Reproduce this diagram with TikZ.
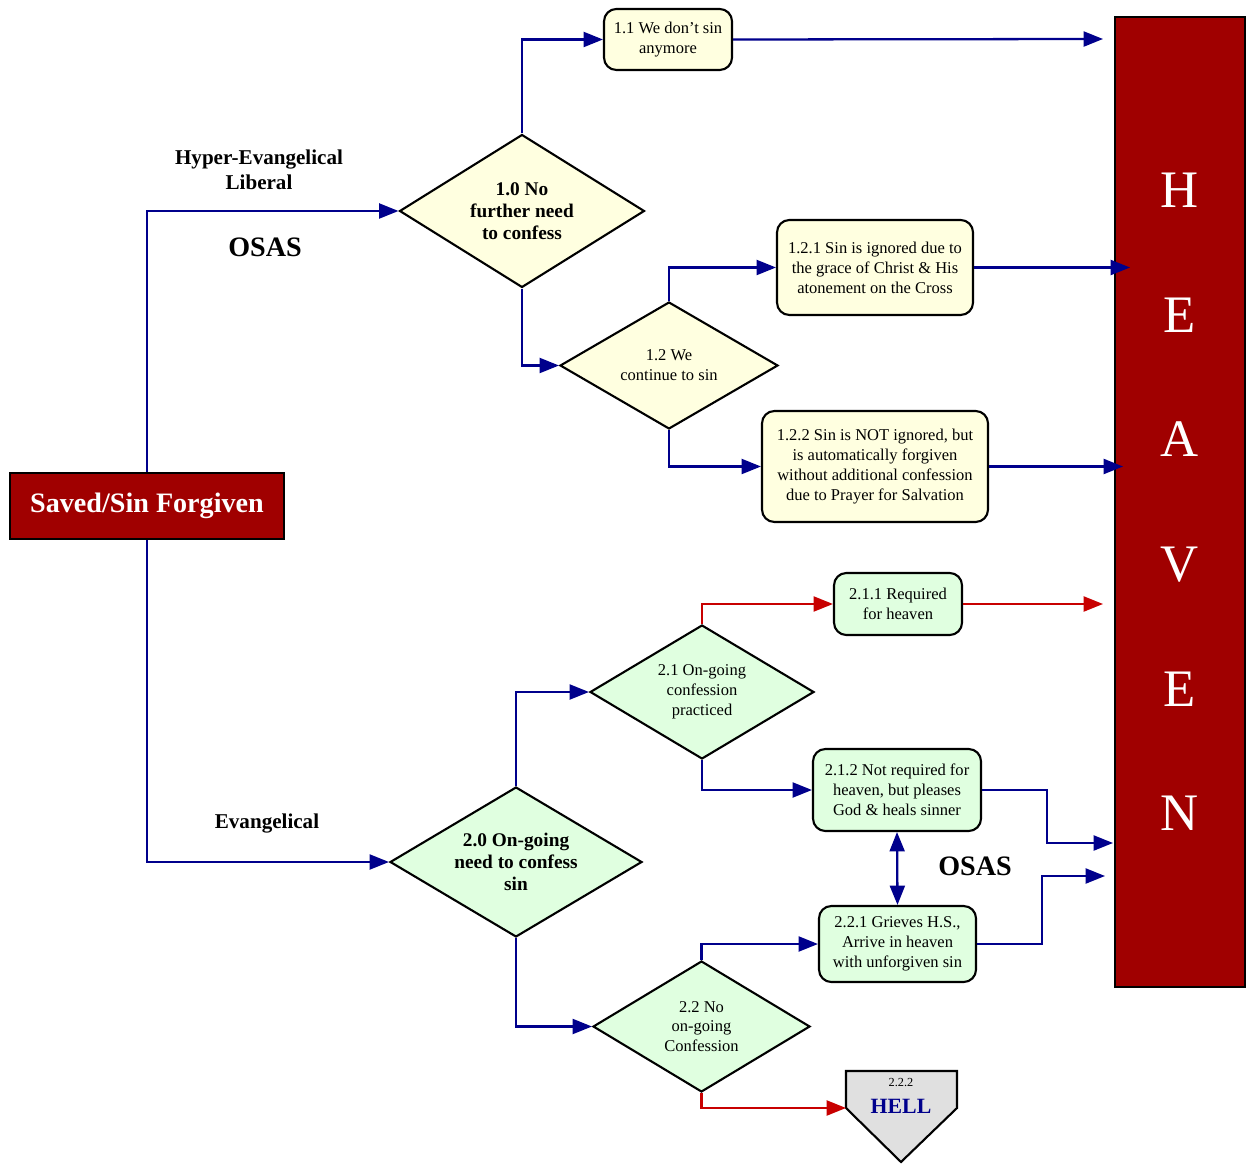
\documentclass[tikz,border=0pt]{standalone}
\usepackage{fontspec}
\setmainfont{Liberation Serif}
\usetikzlibrary{shapes.geometric,arrows.meta}

\definecolor{navyline}{RGB}{0,0,140}
\definecolor{redline}{RGB}{200,0,0}
\definecolor{heavenred}{RGB}{160,0,0}
\definecolor{paleyellow}{RGB}{255,255,224}
\definecolor{palegreen}{RGB}{224,255,224}
\definecolor{palegray}{RGB}{224,224,224}

\tikzset{
    smalltext/.style={font=\fontsize{9.4}{11.3}\selectfont, align=center},
    boldtext/.style={font=\fontsize{11}{12.5}\selectfont\bfseries, align=center},
    yellowbox/.style={draw, line width=1.2pt, rounded corners=7pt, fill=paleyellow, smalltext, inner sep=2pt},
    greenbox/.style={draw, line width=1.2pt, rounded corners=7pt, fill=palegreen, smalltext, inner sep=2pt},
    yellowdiamond/.style={draw, diamond, shape aspect=1.65, line width=1.2pt, fill=paleyellow, inner sep=0pt},
    greendiamond/.style={draw, diamond, shape aspect=1.65, line width=1.2pt, fill=palegreen, inner sep=0pt},
    sidelabel/.style={font=\fontsize{12}{14}\selectfont\bfseries, align=center},
    osaslabel/.style={font=\fontsize{16}{18}\selectfont\bfseries},
    bluearrow/.style={draw=navyline, line width=1.3pt, -{Triangle[length=11pt,width=8.5pt]}},
    redarrow/.style={draw=redline, line width=1.3pt, -{Triangle[length=11pt,width=8.5pt]}},
}

\begin{document}
\begin{tikzpicture}[x=0.02cm, y=-0.02cm]
        \useasboundingbox (0,0) rectangle (1247,1165);

        % Blocks
        \node[draw, line width=1.2pt, fill=heavenred, text=white, minimum width=5.48cm, minimum height=1.32cm,
              font=\fontsize{16}{18}\selectfont\bfseries] (saved) at (147,506) {Saved/Sin Forgiven};
        \node[draw, line width=1.2pt, fill=heavenred, text=white, minimum width=2.6cm, minimum height=19.4cm,
              align=center, font=\fontsize{30}{70.9}\selectfont] (heaven) at (1180,502) {H\\E\\A\\V\\E\\N};

        \node[yellowdiamond, minimum width=4.9cm, minimum height=3.06cm, boldtext] (d10) at (522,211) {1.0 No\\further need\\to confess};
        \node[yellowbox, minimum width=2.56cm, minimum height=1.22cm] (b11) at (668,39.5) {1.1 We don't sin\\anymore};
        \node[yellowdiamond, minimum width=4.36cm, minimum height=2.54cm, smalltext] (d12) at (669,365.5) {1.2 We\\continue to sin};
        \node[yellowbox, minimum width=3.92cm, minimum height=1.9cm] (b121) at (875,267.5) {1.2.1 Sin is ignored due to\\the grace of Christ \& His\\atonement on the Cross};
        \node[yellowbox, minimum width=4.52cm, minimum height=2.22cm] (b122) at (875,466.5) {1.2.2 Sin is NOT ignored, but\\is automatically forgiven\\without additional confession\\due to Prayer for Salvation};

        \node[greendiamond, minimum width=5.04cm, minimum height=3.0cm, boldtext] (d20) at (516,862) {2.0 On-going\\need to confess\\sin};
        \node[greendiamond, minimum width=4.48cm, minimum height=2.68cm, smalltext] (d21) at (702,692) {2.1 On-going\\confession\\practiced};
        \node[greenbox, minimum width=2.56cm, minimum height=1.24cm] (b211) at (898,604) {2.1.1 Required\\for heaven};
        \node[greenbox, minimum width=3.36cm, minimum height=1.64cm] (b212) at (897,790) {2.1.2 Not required for\\heaven, but pleases\\God \& heals sinner};
        \node[greenbox, minimum width=3.14cm, minimum height=1.52cm] (b221) at (897.5,944) {2.2.1 Grieves H.S.,\\Arrive in heaven\\with unforgiven sin};
        \node[greendiamond, minimum width=4.34cm, minimum height=2.62cm, smalltext] (d22) at (701.5,1026.5) {2.2 No\\on-going\\Confession};

        % Hell
        \coordinate (hellnw) at (846,1071);
        \coordinate (hellne) at (957,1071);
        \coordinate (hellse) at (957,1108);
        \coordinate (hellpt) at (901,1162);
        \coordinate (hellsw) at (846,1108);
        \draw[line width=1.2pt, fill=palegray] (hellnw) -- (hellne) -- (hellse) -- (hellpt) -- (hellsw) -- cycle;
        \node[font=\fontsize{7}{8}\selectfont] (hellnum) at (901,1083) {2.2.2};
        \node[font=\fontsize{12.4}{14}\selectfont\bfseries, text=navyline] (hell) at (901,1106) {HELL};

        % Labels
        \node[sidelabel] (hyper) at (259,169.5) {Hyper-Evangelical\\Liberal};
        \node[osaslabel] (osas1) at (265,247) {OSAS};
        \node[sidelabel] (evang) at (267,824) {Evangelical};
        \node[osaslabel] (osas2) at (975,866) {OSAS};

        % Arrow ends on heaven
        \coordinate (h11) at (1103,39);
        \coordinate (h121) at (1130,267.5);
        \coordinate (h122) at (1123,466.5);
        \coordinate (h211) at (1103,604);
        \coordinate (h212) at (1113,843);
        \coordinate (h221) at (1105,876);

        % Arrows
        \draw[bluearrow] (saved.north) |- (d10.west);
        \draw[bluearrow] (saved.south) |- (d20.west);
        \draw[bluearrow] (d10.north) |- (b11.west);
        \draw[bluearrow] (d10.south) |- (d12.west);
        \draw[bluearrow] (d12.north) |- (b121.west);
        \draw[bluearrow] (d12.south) |- (b122.west);
        \draw[bluearrow] (b11.east) -- (h11);
        \draw[bluearrow] (b121.east) -- (h121);
        \draw[bluearrow] (b122.east) -- (h122);

        \draw[bluearrow] (d20.north) |- (d21.west);
        \draw[bluearrow] (d20.south) |- (d22.west);
        \draw[redarrow] (d21.north) |- (b211.west);
        \draw[bluearrow] (d21.south) |- (b212.west);
        \draw[bluearrow] (d22.north) |- (b221.west);
        \draw[redarrow] (d22.south) |- (hellsw);
        \draw[redarrow] (b211.east) -- (h211);
        \draw[bluearrow] (b212.east) -- ++(65,0) |- (h212);
        \draw[bluearrow] (b221.east) -- ++(65,0) |- (h221);
        \draw[bluearrow, {Triangle[length=11pt,width=8.5pt]}-{Triangle[length=11pt,width=8.5pt]}] (b212.south) -- (b221.north);

    \end{tikzpicture}
\end{document}
